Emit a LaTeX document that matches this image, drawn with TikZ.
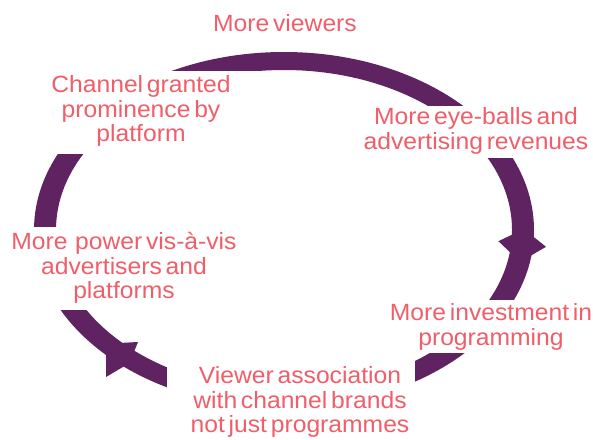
\documentclass[tikz,border=0pt]{standalone}
\usepackage{fontspec}
\setmainfont{Liberation Sans}[WordSpace=0.55, FakeStretch=1.05]
\definecolor{ringpurple}{RGB}{95,35,98}
\definecolor{labelred}{RGB}{240,94,106}
\begin{document}
\begin{tikzpicture}[x=1pt,y=-1pt,
  cyclabel/.style={text=labelred, align=center, inner sep=0pt,
    font=\fontsize{23.5}{24.5}\selectfont},
  maskbox/.style={fill=white}]
\useasboundingbox (0,0) rectangle (593,439);
% ring
\fill[ringpurple, even odd rule] (284,230) ellipse [x radius=250pt, y radius=178pt]
                                 (284,230) ellipse [x radius=228pt, y radius=160pt];
% arrowheads
\fill[ringpurple] (520.1,261.9) -- (546,246.8) -- (531.3,235.0) -- (515.4,233.1) -- (498.4,241.2) -- cycle;
\fill[ringpurple] (106.0,343.7) -- (138,342) -- (133.8,352.4) -- (124.9,365.8) -- (106,377) -- cycle;
% white masks behind labels
\fill[maskbox] (360,106) rectangle (593,158);
\fill[maskbox] (385,300) rectangle (593,353);
\fill[maskbox] (167,356) rectangle (415,439);
\fill[maskbox] (0,227) rectangle (245,310);
\fill[maskbox] (0,70.5) rectangle (282,154);
% labels
\node[cyclabel] (viewers) at (285,23) {More viewers};
\node[cyclabel] (eyeballs) at (476,131) {More eye-balls and\\advertising revenues};
\node[cyclabel] (invest) at (491,327) {More investment in\\programming};
\node[cyclabel] (assoc) at (300,402) {Viewer association\\with channel brands\\not just programmes};
\node[cyclabel] (power) at (124,268) {More~ power vis-à-vis\\advertisers and\\platforms};
\node[cyclabel] (channel) at (141,111) {Channel granted\\prominence by\\platform};
\end{tikzpicture}
\end{document}
